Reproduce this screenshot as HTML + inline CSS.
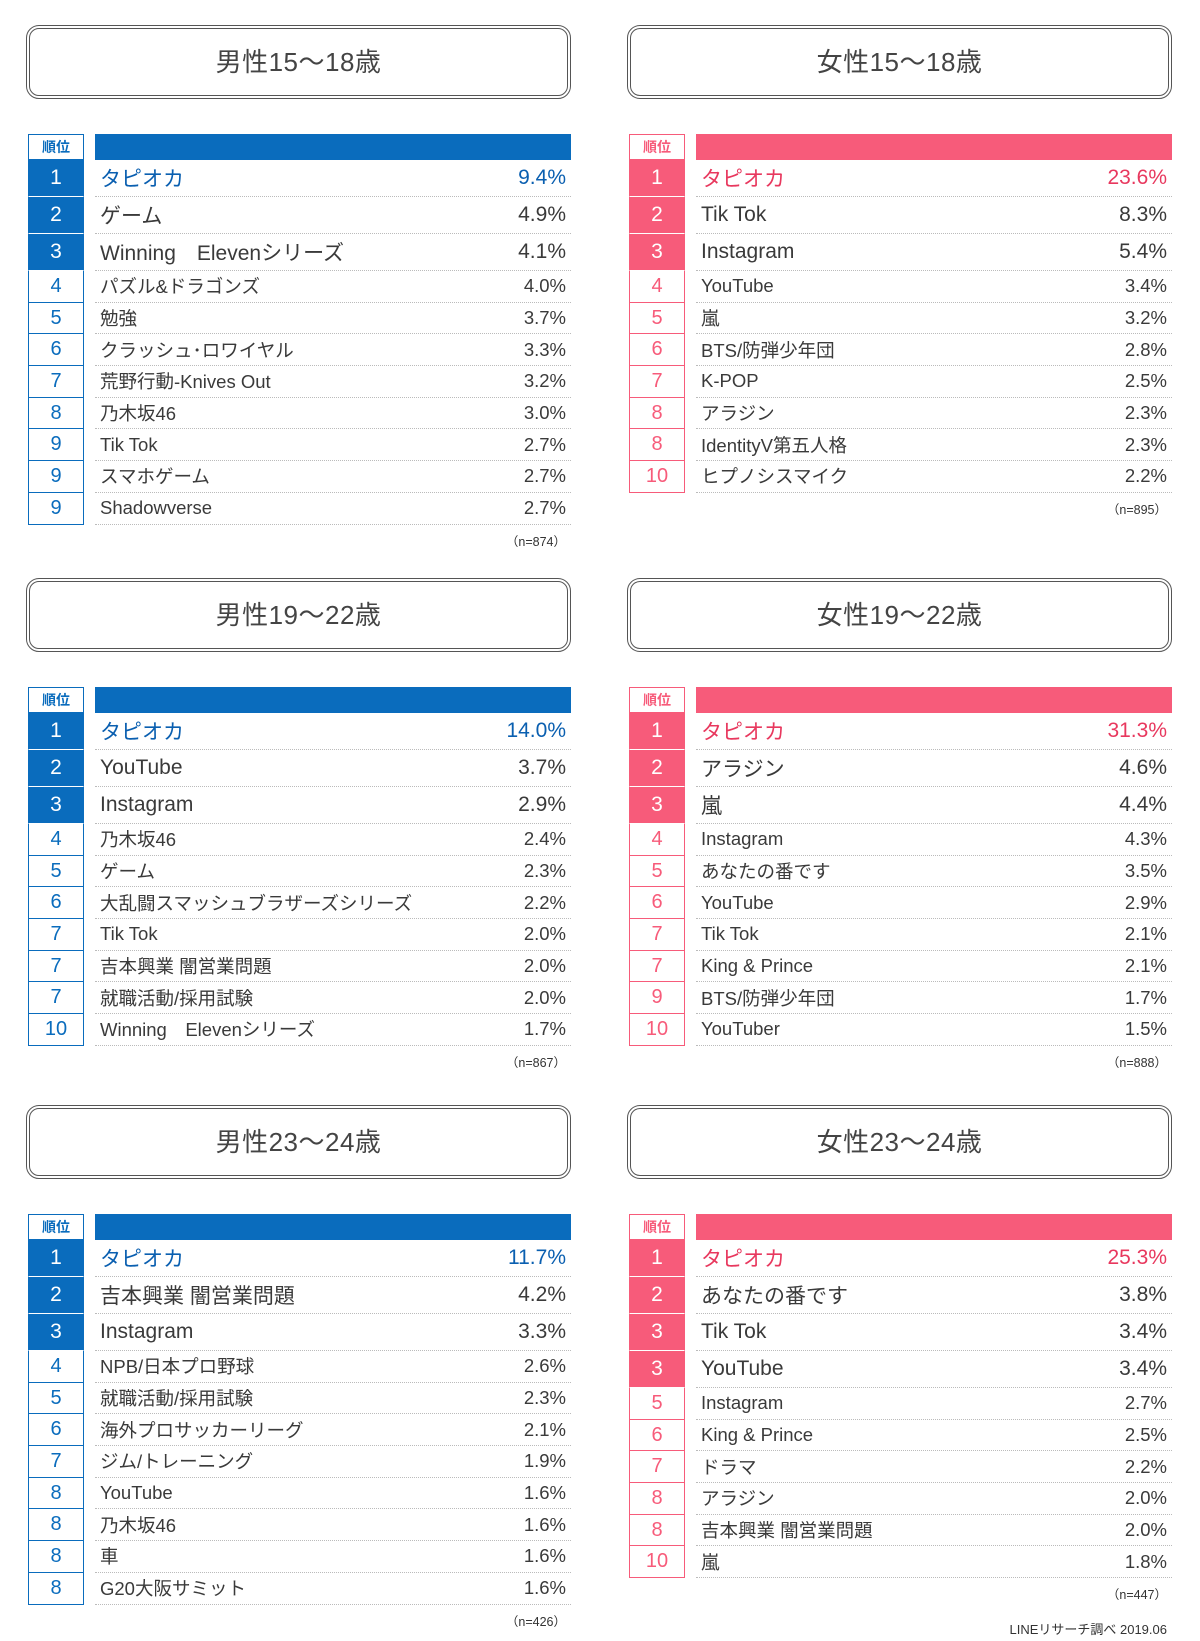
<!DOCTYPE html>
<html><head><meta charset="utf-8"><style>
*{box-sizing:border-box;margin:0;padding:0}
body{width:1200px;height:1641px;background:#fff;position:relative;font-family:"Liberation Sans","Noto Sans CJK JP",sans-serif;color:#3a3a3a;overflow:hidden}
.p{position:absolute;width:545px}
.t{height:74px;border:4px double #555;border-radius:13px;text-align:center;line-height:66px;font-size:26px;color:#444;letter-spacing:.5px}
.tb{position:absolute;top:109px;left:2px;width:543px}
.r{display:flex;height:31.7px}
.r.b{height:37px}
.k{width:56px;border:1.5px solid var(--c);border-top:none;text-align:center;color:var(--c);font-size:20px;display:flex;align-items:center;justify-content:center}
.r.b .k{background:var(--c);color:#fff;border-bottom:1.5px solid #fff;font-size:21px}
.n{flex:1;margin-left:11px;border-bottom:1px dotted #bbb;display:flex;align-items:center;justify-content:space-between;padding:0 5px 0 5px;font-size:18.5px}
.r.b .n{font-size:21px}
.r.f .n{color:var(--t)}
.h{display:flex;height:26px}
.h .k{border-top:1.5px solid var(--c);font-size:14px;font-weight:bold;background:#fff;color:var(--c)}
.h .n{background:var(--c);border:none}
.bl{--c:#0a6cbd;--t:#0a5fb0}
.pk{--c:#f75b7a;--t:#e8385e}
.nn{text-align:right;font-size:12.5px;padding-right:5px;margin-top:6px;color:#333}
.L{left:26px}.R{left:627px}
</style></head><body>

<div class="p L bl" style="top:25px"><div class="t">男性15〜18歳</div><div class="tb">
<div class="h"><div class="k">順位</div><div class="n"></div></div>
<div class="r b f"><div class="k">1</div><div class="n"><span>タピオカ</span><span>9.4%</span></div></div>
<div class="r b"><div class="k">2</div><div class="n"><span>ゲーム</span><span>4.9%</span></div></div>
<div class="r b"><div class="k">3</div><div class="n"><span>Winning　Elevenシリーズ</span><span>4.1%</span></div></div>
<div class="r"><div class="k">4</div><div class="n"><span>パズル&amp;ドラゴンズ</span><span>4.0%</span></div></div>
<div class="r"><div class="k">5</div><div class="n"><span>勉強</span><span>3.7%</span></div></div>
<div class="r"><div class="k">6</div><div class="n"><span>クラッシュ･ロワイヤル</span><span>3.3%</span></div></div>
<div class="r"><div class="k">7</div><div class="n"><span>荒野行動-Knives Out</span><span>3.2%</span></div></div>
<div class="r"><div class="k">8</div><div class="n"><span>乃木坂46</span><span>3.0%</span></div></div>
<div class="r"><div class="k">9</div><div class="n"><span>Tik Tok</span><span>2.7%</span></div></div>
<div class="r"><div class="k">9</div><div class="n"><span>スマホゲーム</span><span>2.7%</span></div></div>
<div class="r"><div class="k">9</div><div class="n"><span>Shadowverse</span><span>2.7%</span></div></div>
<div class="nn">（n=874）</div></div></div>

<div class="p R pk" style="top:25px"><div class="t">女性15〜18歳</div><div class="tb">
<div class="h"><div class="k">順位</div><div class="n"></div></div>
<div class="r b f"><div class="k">1</div><div class="n"><span>タピオカ</span><span>23.6%</span></div></div>
<div class="r b"><div class="k">2</div><div class="n"><span>Tik Tok</span><span>8.3%</span></div></div>
<div class="r b"><div class="k">3</div><div class="n"><span>Instagram</span><span>5.4%</span></div></div>
<div class="r"><div class="k">4</div><div class="n"><span>YouTube</span><span>3.4%</span></div></div>
<div class="r"><div class="k">5</div><div class="n"><span>嵐</span><span>3.2%</span></div></div>
<div class="r"><div class="k">6</div><div class="n"><span>BTS/防弾少年団</span><span>2.8%</span></div></div>
<div class="r"><div class="k">7</div><div class="n"><span>K-POP</span><span>2.5%</span></div></div>
<div class="r"><div class="k">8</div><div class="n"><span>アラジン</span><span>2.3%</span></div></div>
<div class="r"><div class="k">8</div><div class="n"><span>IdentityV第五人格</span><span>2.3%</span></div></div>
<div class="r"><div class="k">10</div><div class="n"><span>ヒプノシスマイク</span><span>2.2%</span></div></div>
<div class="nn">（n=895）</div></div></div>

<div class="p L bl" style="top:578px"><div class="t">男性19〜22歳</div><div class="tb">
<div class="h"><div class="k">順位</div><div class="n"></div></div>
<div class="r b f"><div class="k">1</div><div class="n"><span>タピオカ</span><span>14.0%</span></div></div>
<div class="r b"><div class="k">2</div><div class="n"><span>YouTube</span><span>3.7%</span></div></div>
<div class="r b"><div class="k">3</div><div class="n"><span>Instagram</span><span>2.9%</span></div></div>
<div class="r"><div class="k">4</div><div class="n"><span>乃木坂46</span><span>2.4%</span></div></div>
<div class="r"><div class="k">5</div><div class="n"><span>ゲーム</span><span>2.3%</span></div></div>
<div class="r"><div class="k">6</div><div class="n"><span>大乱闘スマッシュブラザーズシリーズ</span><span>2.2%</span></div></div>
<div class="r"><div class="k">7</div><div class="n"><span>Tik Tok</span><span>2.0%</span></div></div>
<div class="r"><div class="k">7</div><div class="n"><span>吉本興業 闇営業問題</span><span>2.0%</span></div></div>
<div class="r"><div class="k">7</div><div class="n"><span>就職活動/採用試験</span><span>2.0%</span></div></div>
<div class="r"><div class="k">10</div><div class="n"><span>Winning　Elevenシリーズ</span><span>1.7%</span></div></div>
<div class="nn">（n=867）</div></div></div>

<div class="p R pk" style="top:578px"><div class="t">女性19〜22歳</div><div class="tb">
<div class="h"><div class="k">順位</div><div class="n"></div></div>
<div class="r b f"><div class="k">1</div><div class="n"><span>タピオカ</span><span>31.3%</span></div></div>
<div class="r b"><div class="k">2</div><div class="n"><span>アラジン</span><span>4.6%</span></div></div>
<div class="r b"><div class="k">3</div><div class="n"><span>嵐</span><span>4.4%</span></div></div>
<div class="r"><div class="k">4</div><div class="n"><span>Instagram</span><span>4.3%</span></div></div>
<div class="r"><div class="k">5</div><div class="n"><span>あなたの番です</span><span>3.5%</span></div></div>
<div class="r"><div class="k">6</div><div class="n"><span>YouTube</span><span>2.9%</span></div></div>
<div class="r"><div class="k">7</div><div class="n"><span>Tik Tok</span><span>2.1%</span></div></div>
<div class="r"><div class="k">7</div><div class="n"><span>King &amp; Prince</span><span>2.1%</span></div></div>
<div class="r"><div class="k">9</div><div class="n"><span>BTS/防弾少年団</span><span>1.7%</span></div></div>
<div class="r"><div class="k">10</div><div class="n"><span>YouTuber</span><span>1.5%</span></div></div>
<div class="nn">（n=888）</div></div></div>

<div class="p L bl" style="top:1105px"><div class="t">男性23〜24歳</div><div class="tb">
<div class="h"><div class="k">順位</div><div class="n"></div></div>
<div class="r b f"><div class="k">1</div><div class="n"><span>タピオカ</span><span>11.7%</span></div></div>
<div class="r b"><div class="k">2</div><div class="n"><span>吉本興業 闇営業問題</span><span>4.2%</span></div></div>
<div class="r b"><div class="k">3</div><div class="n"><span>Instagram</span><span>3.3%</span></div></div>
<div class="r"><div class="k">4</div><div class="n"><span>NPB/日本プロ野球</span><span>2.6%</span></div></div>
<div class="r"><div class="k">5</div><div class="n"><span>就職活動/採用試験</span><span>2.3%</span></div></div>
<div class="r"><div class="k">6</div><div class="n"><span>海外プロサッカーリーグ</span><span>2.1%</span></div></div>
<div class="r"><div class="k">7</div><div class="n"><span>ジム/トレーニング</span><span>1.9%</span></div></div>
<div class="r"><div class="k">8</div><div class="n"><span>YouTube</span><span>1.6%</span></div></div>
<div class="r"><div class="k">8</div><div class="n"><span>乃木坂46</span><span>1.6%</span></div></div>
<div class="r"><div class="k">8</div><div class="n"><span>車</span><span>1.6%</span></div></div>
<div class="r"><div class="k">8</div><div class="n"><span>G20大阪サミット</span><span>1.6%</span></div></div>
<div class="nn">（n=426）</div></div></div>

<div class="p R pk" style="top:1105px"><div class="t">女性23〜24歳</div><div class="tb">
<div class="h"><div class="k">順位</div><div class="n"></div></div>
<div class="r b f"><div class="k">1</div><div class="n"><span>タピオカ</span><span>25.3%</span></div></div>
<div class="r b"><div class="k">2</div><div class="n"><span>あなたの番です</span><span>3.8%</span></div></div>
<div class="r b"><div class="k">3</div><div class="n"><span>Tik Tok</span><span>3.4%</span></div></div>
<div class="r b"><div class="k">3</div><div class="n"><span>YouTube</span><span>3.4%</span></div></div>
<div class="r"><div class="k">5</div><div class="n"><span>Instagram</span><span>2.7%</span></div></div>
<div class="r"><div class="k">6</div><div class="n"><span>King &amp; Prince</span><span>2.5%</span></div></div>
<div class="r"><div class="k">7</div><div class="n"><span>ドラマ</span><span>2.2%</span></div></div>
<div class="r"><div class="k">8</div><div class="n"><span>アラジン</span><span>2.0%</span></div></div>
<div class="r"><div class="k">8</div><div class="n"><span>吉本興業 闇営業問題</span><span>2.0%</span></div></div>
<div class="r"><div class="k">10</div><div class="n"><span>嵐</span><span>1.8%</span></div></div>
<div class="nn">（n=447）</div>
<div class="nn" style="margin-top:16px;font-size:13px">LINEリサーチ調べ 2019.06</div></div></div>

</body></html>
